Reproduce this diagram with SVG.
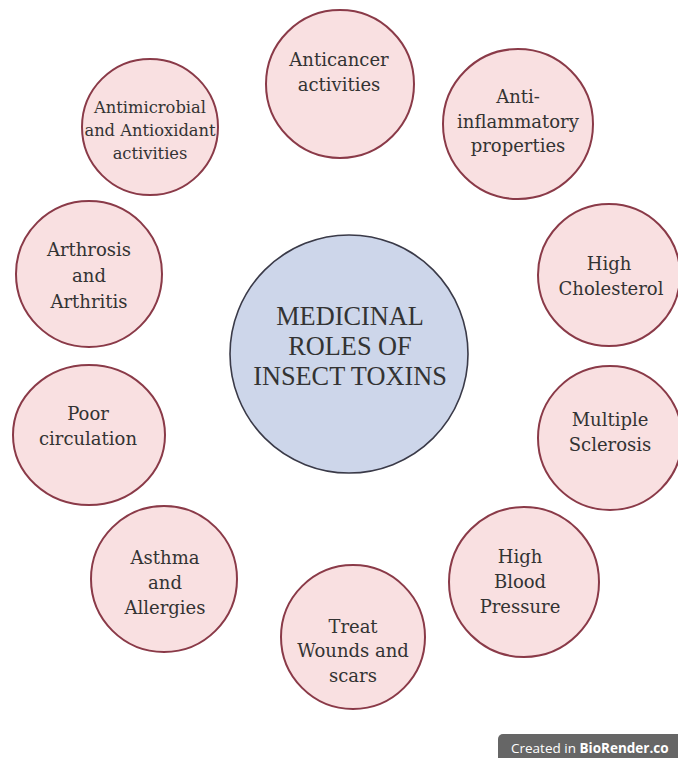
<svg xmlns="http://www.w3.org/2000/svg" width="678" height="758" viewBox="0 0 678 758">
<style>
.n{fill:#f9e0e1;stroke:#8a3a48;stroke-width:2}
.c{fill:#cdd6ea;stroke:#3a3a48;stroke-width:1.6}
text{font-family:"DejaVu Serif","Liberation Serif",serif;fill:#333;text-anchor:middle}
.t{font-size:18px}
.s{font-size:16.3px}
.m{font-family:"Liberation Serif","DejaVu Serif",serif;font-size:26.3px}
.wm{font-family:"Open Sans","Noto Sans",sans-serif;font-size:13.5px;fill:#fff;text-anchor:start}
</style>
<rect width="678" height="758" fill="#fff"/>
<g id="connectors"/>
<g id="center"><circle class="c" cx="349" cy="354" r="119"/>
<text class="m" x="350" y="325">MEDICINAL</text><text class="m" x="350" y="355">ROLES OF</text><text class="m" x="350" y="385">INSECT TOXINS</text></g>
<g id="anticancer"><circle class="n" cx="340" cy="84" r="74"/>
<text class="t" x="339" y="66">Anticancer</text><text class="t" x="339" y="91">activities</text></g>
<g id="antimicrobial"><circle class="n" cx="150" cy="127" r="68"/>
<text class="s" x="150" y="113">Antimicrobial</text><text class="s" x="150" y="136">and Antioxidant</text><text class="s" x="150" y="159">activities</text></g>
<g id="antiinflammatory"><circle class="n" cx="518" cy="124" r="75"/>
<text class="t" x="518" y="103">Anti-</text><text class="t" x="518" y="128">inflammatory</text><text class="t" x="518" y="152">properties</text></g>
<g id="cholesterol"><circle class="n" cx="609" cy="275" r="71"/>
<text class="t" x="609" y="270">High</text><text class="t" x="611" y="295">Cholesterol</text></g>
<g id="arthrosis"><circle class="n" cx="89" cy="274" r="73"/>
<text class="t" x="89" y="256">Arthrosis</text><text class="t" x="89" y="282">and</text><text class="t" x="89" y="308">Arthritis</text></g>
<g id="circulation"><ellipse class="n" cx="89" cy="435" rx="76" ry="70"/>
<text class="t" x="88" y="420">Poor</text><text class="t" x="88" y="445">circulation</text></g>
<g id="sclerosis"><circle class="n" cx="610" cy="438" r="72"/>
<text class="t" x="610" y="426">Multiple</text><text class="t" x="610" y="451">Sclerosis</text></g>
<g id="asthma"><circle class="n" cx="164" cy="579" r="73"/>
<text class="t" x="165" y="564">Asthma</text><text class="t" x="165" y="589">and</text><text class="t" x="165" y="614">Allergies</text></g>
<g id="bloodpressure"><circle class="n" cx="524" cy="582" r="75"/>
<text class="t" x="520" y="563">High</text><text class="t" x="520" y="588">Blood</text><text class="t" x="520" y="613">Pressure</text></g>
<g id="wounds"><circle class="n" cx="353" cy="637" r="72"/>
<text class="t" x="353" y="633">Treat</text><text class="t" x="353" y="657">Wounds and</text><text class="t" x="353" y="682">scars</text></g>
<g id="watermark"><rect x="498" y="734" width="200" height="30" rx="5" fill="#666"/>
<text class="wm" x="511" y="753">Created in <tspan font-weight="bold">BioRender.co</tspan></text></g>
</svg>
